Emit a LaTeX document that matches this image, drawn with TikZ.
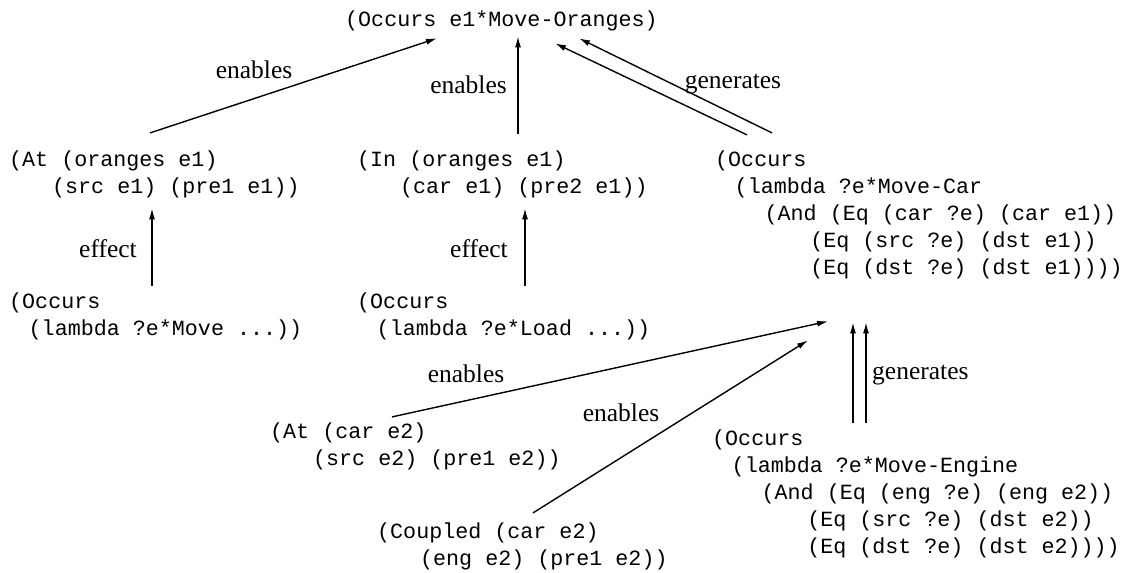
\documentclass[tikz,border=0pt]{standalone}
\usepackage{fontspec}
\setmainfont{Liberation Serif}
\newfontfamily\codefont{Liberation Mono}
\usetikzlibrary{arrows.meta}
\newcommand\ind[1]{\hspace*{#1em}}
\begin{document}
\begin{tikzpicture}[x=1bp,y=-1bp,
  code/.style={anchor=base west, inner sep=0pt, font=\codefont\fontsize{21.7bp}{27bp}\selectfont},
  lbl/.style={font=\fontsize{25.5bp}{30bp}\selectfont, inner sep=0pt},
  arr/.style={-{Latex[length=11bp,width=6bp]}, line width=1.4bp}]
\useasboundingbox (0,0) rectangle (1123,573);

\node[code] (T) at (345,27) {\begin{tabular}[t]{@{}l@{}}(Occurs e1*Move-Oranges)\end{tabular}};
\node[code] (AT1) at (9,167) {\begin{tabular}[t]{@{}l@{}}(At (oranges e1)\\\ind{1.98}(src e1) (pre1 e1))\end{tabular}};
\node[code] (IN1) at (357,167) {\begin{tabular}[t]{@{}l@{}}(In (oranges e1)\\\ind{1.98}(car e1) (pre2 e1))\end{tabular}};
\node[code] (OC1) at (715,167) {\begin{tabular}[t]{@{}l@{}}(Occurs\\\ind{0.9}(lambda ?e*Move-Car\\\ind{2.28}(And (Eq (car ?e) (car e1))\\\ind{4.38}(Eq (src ?e) (dst e1))\\\ind{4.38}(Eq (dst ?e) (dst e1))))\end{tabular}};
\node[code] (MV) at (9,309) {\begin{tabular}[t]{@{}l@{}}(Occurs\\\ind{0.9}(lambda ?e*Move ...))\end{tabular}};
\node[code] (LD) at (357,309) {\begin{tabular}[t]{@{}l@{}}(Occurs\\\ind{0.9}(lambda ?e*Load ...))\end{tabular}};
\node[code] (AT2) at (270,438) {\begin{tabular}[t]{@{}l@{}}(At (car e2)\\\ind{1.98}(src e2) (pre1 e2))\end{tabular}};
\node[code] (CP) at (377,538) {\begin{tabular}[t]{@{}l@{}}(Coupled (car e2)\\\ind{1.98}(eng e2) (pre1 e2))\end{tabular}};
\node[code] (OC2) at (712,445) {\begin{tabular}[t]{@{}l@{}}(Occurs\\\ind{0.9}(lambda ?e*Move-Engine\\\ind{2.28}(And (Eq (eng ?e) (eng e2))\\\ind{4.38}(Eq (src ?e) (dst e2))\\\ind{4.38}(Eq (dst ?e) (dst e2))))\end{tabular}};

% upper connectors
\draw[arr] ([shift={(141,-15)}]AT1.north west) -- ([shift={(92,3)}]T.south west);
\draw[arr] ([shift={(161,-14)}]IN1.north west) -- ([shift={(173,1)}]T.south west);
\draw[arr] ([shift={(32,-13)}]OC1.north west) -- ([shift={(210,8)}]T.south west);
\draw[arr] ([shift={(57,-15)}]OC1.north west) -- ([shift={(234,3)}]T.south west);
\draw[arr] ([shift={(143,-4)}]MV.north west) -- ([shift={(143,6)}]AT1.south west);
\draw[arr] ([shift={(168,-4)}]LD.north west) -- ([shift={(168,6)}]IN1.south west);
% lower connectors
\draw[arr] ([shift={(122,-2)}]AT2.north west) -- ([shift={(113,38)}]OC1.south west);
\draw[arr] ([shift={(156,-6)}]CP.north west) -- ([shift={(93,57)}]OC1.south west);
\draw[arr] ([shift={(141,-3)}]OC2.north west) -- ([shift={(138,39)}]OC1.south west);
\draw[arr] ([shift={(154,-3)}]OC2.north west) -- ([shift={(151,39)}]OC1.south west);

% labels
\node[lbl] (l1) at (254,70) {enables};
\node[lbl, anchor=east] (l2) at (507,85) {enables};
\node[lbl] (l3) at (733,84) {generates};
\node[lbl, anchor=east] (l4) at (137,249) {effect};
\node[lbl, anchor=east] (l5) at (508,249) {effect};
\node[lbl] (l6) at (466,374) {enables};
\node[lbl] (l7) at (621,413) {enables};
\node[lbl, anchor=west] (l8) at (872,375) {generates};
\end{tikzpicture}
\end{document}
